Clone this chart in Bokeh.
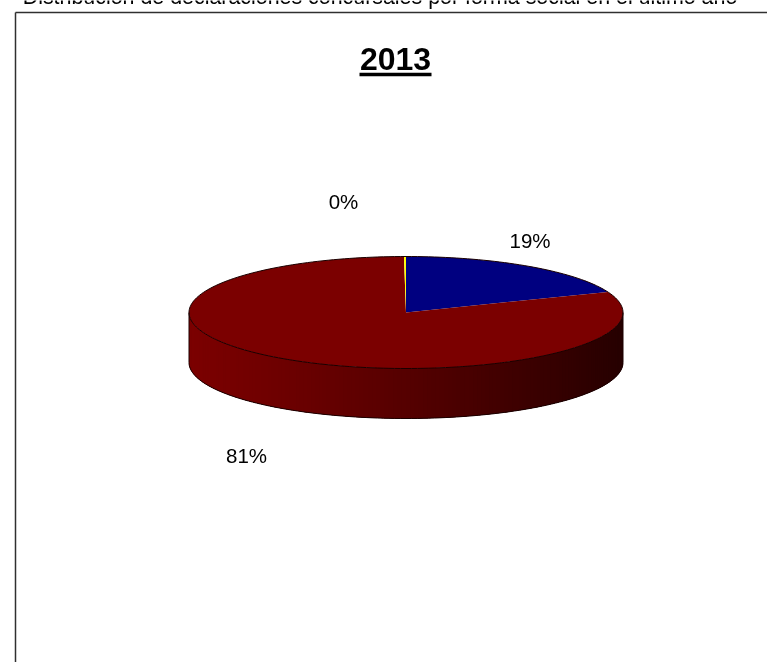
import numpy as np
from bokeh.plotting import figure
from bokeh.models import Range1d
from bokeh.embed import file_html
from bokeh.resources import INLINE

categories = ["Sociedad limitada", "Sociedad anónima", "Otras"]
shares = [19.0, 80.85, 0.15]
labels = ["19%", "81%", "0%"]
colors = ["#000080", "#7b0000", "#ffff00"]
heading = "Distribución de declaraciones concursales por forma social en el último año"
year = "2013"

W, H = 767, 662
p = figure(width=W, height=H, output_backend="svg", toolbar_location=None,
           x_range=Range1d(0, W), y_range=Range1d(H, 0),
           min_border=0, outline_line_color=None,
           styles={"position": "fixed", "left": "0", "top": "0"})
p.axis.visible = False
p.grid.visible = False

CX, CY, RX, RY, DEPTH = 405.5, 312.0, 217.0, 56.0, 50.0


def rim(a):
    return CX + RX * np.sin(a), CY - RY * np.cos(a)


# Frame
p.line([15, 15], [H, 12], line_color="#303030", line_width=1.5)
p.line([15, W], [12, 12], line_color="#303030", line_width=1.5)

# Side wall: painted left to right, each strip overlapping the next
steps = np.linspace(3 * np.pi / 2, np.pi / 2, 161)
for i in range(len(steps) - 1):
    arc = steps[i:i + 4]
    xa, ya = rim(arc)
    t = (xa[0] - (CX - RX)) / (2 * RX)
    red = int(round(123 - 85 * t ** 1.15))
    p.patch([*xa, *xa[::-1]], [*ya, *(ya[::-1] + DEPTH)],
            fill_color=f"#{red:02x}0000", line_color=None)

# Top face: wedges go clockwise from twelve o'clock
total = sum(shares)
start = 0.0
for share, color in zip(shares, colors):
    end = start + 2 * np.pi * share / total
    arc = np.linspace(start, end, max(3, int(share * 3)))
    xs, ys = rim(arc)
    p.patch([CX, *xs], [CY, *ys], fill_color=color, line_color=None)
    start = end

# Outlines
arc = np.linspace(0, 2 * np.pi, 241)
xs, ys = rim(arc)
p.line(xs, ys, line_color="#1a0000", line_width=1)
arc = np.linspace(np.pi / 2, 3 * np.pi / 2, 121)
xs, ys = rim(arc)
p.line(xs, ys + DEPTH, line_color="#1a0000", line_width=1)
for s in (np.pi / 2, 3 * np.pi / 2):
    x, y = rim(s)
    p.line([x, x], [y, y + DEPTH], line_color="#1a0000", line_width=1)

# Texts
p.text([379.5], [-4], text=[heading], text_font_size="21.4px", text_font={"value": "Liberation Sans"},
       text_align="center", text_baseline="middle", text_color="#000000")
p.text([395], [58], text=[year], text_font_size="32px", text_font={"value": "Liberation Sans"},
       text_font_style="bold", text_align="center", text_baseline="middle", text_color="#000000")
p.line([359, 431], [74, 74], line_color="#000000", line_width=3.5)
lx = [529.5, 246, 343]
ly = [240, 455, 201]
p.text(lx, ly, text=labels, text_font_size="20.5px", text_font={"value": "Liberation Sans"},
       text_align="center", text_baseline="middle", text_color="#000000")

open("out.html", "w").write(file_html(p, INLINE))
